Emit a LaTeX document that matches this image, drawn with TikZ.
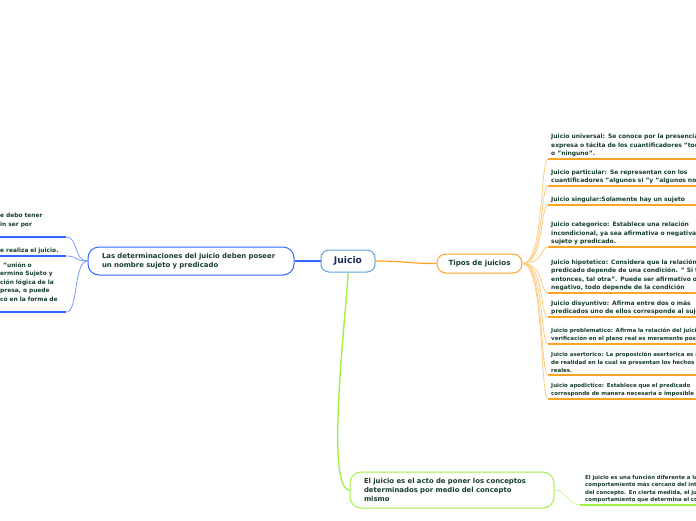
\documentclass[tikz,border=0pt]{standalone}
\usepackage{fontspec}
\setmainfont{DejaVu Sans}

\definecolor{texto}{RGB}{22,62,44}
\definecolor{marino}{RGB}{28,45,92}
\definecolor{naranja}{RGB}{255,163,34}
\definecolor{naranjaclaro}{RGB}{255,204,128}
\definecolor{azul}{RGB}{51,102,255}
\definecolor{azulclaro}{RGB}{120,155,255}
\definecolor{celeste}{RGB}{95,160,220}
\definecolor{verde}{RGB}{160,240,70}
\definecolor{verdeclaro}{RGB}{200,248,150}

\newcommand\ramafont{\fontsize{6.9}{8.6}\selectfont\bfseries}
\newcommand\hojafont{\fontsize{6}{8.5}\selectfont\bfseries}
\newcommand\izqfont{\fontsize{5.9}{8.5}\selectfont\bfseries}
\newcommand\hojitafont{\fontsize{5.5}{8}\selectfont\bfseries}
\newcommand\minifont{\fontsize{5.4}{7.4}\selectfont\bfseries}

\tikzset{
  raiz/.style={draw=celeste,fill=white,line width=1pt,rounded corners=8pt,
    minimum width=54pt,minimum height=22pt,text=marino,
    font=\fontsize{9.2}{10}\selectfont\bfseries},
  rama/.style={draw=#1,fill=white,line width=1pt,rounded corners=11pt,
    text=texto,font=\ramafont,align=left,inner xsep=14pt},
  hoja/.style={anchor=south west,text width=210pt,align=left,inner xsep=3pt,
    inner ysep=2pt,text=texto,font=\hojafont},
  hojaizq/.style={anchor=south west,text width=65pt,align=left,inner xsep=1pt,
    inner ysep=2pt,text=texto,font=\izqfont},
}

\begin{document}
\begin{tikzpicture}[x=1pt,y=-1pt]
\useasboundingbox (0,0) rectangle (696,520);
\clip (0,0) rectangle (696,520);

% centro y ramas
\node[raiz] (juicio) at (348,261) {Juicio};
\node[rama=naranja,rounded corners=9pt,minimum width=85pt,minimum height=19pt,
  align=center,inner xsep=4pt,font=\fontsize{7.1}{8}\selectfont\bfseries] (tipos) at (479.5,263.5) {Tipos de juicios};
\node[rama=azul,text width=178pt,minimum height=28pt] (determ) at (191,261)
  {Las determinaciones del juicio deben poseer\\un nombre sujeto y predicado};
\node[rama=verde,text width=176pt,minimum height=36pt] (acto) at (452,490)
  {El juicio es el acto de poner los conceptos\\determinados por medio del concepto\\mismo};

\draw[naranja,line width=1.2pt] (juicio.east) .. controls +(30,0) and +(-30,0) .. (tipos.west);
\draw[azul,line width=1.2pt] (juicio.west) -- (determ.east);
\draw[verde,line width=1.4pt] (juicio.south) to[out=-90,in=180,looseness=0.3] (acto.west);

% tipos de juicios
\node[hoja] (universal) at (548,159) {Juicio universal: Se conoce por la presencia\\expresa o tácita de los cuantificadores "todos"\\o "ninguno".};
\node[hoja] (particular) at (548,186) {Juicio particular: Se representan con los\\cuantificadores "algunos si "y "algunos no"};
\node[hoja] (singular) at (548,205) {Juicio singular:Solamente hay un sujeto};
\node[hoja] (categorico) at (548,247) {Juicio categorico: Establece una relación\\incondicional, ya sea afirmativa o negativa, entre\\sujeto y predicado.};
\node[hoja] (hipotetico) at (548,293) {Juicio hipotetico: Considera que la relación entre\\predicado depende de una condición. " Si tal\\entonces, tal otra". Puede ser afirmativo o\\negativo, todo depende de la condición};
\node[hoja] (disyuntivo) at (548,317) {Juicio disyuntivo: Afirma entre dos o más\\predicados uno de ellos corresponde al sujeto};
\node[hoja,font=\hojitafont] (problematico) at (548,344) {Juicio problematico: Afirma la relación del juicio\\verificación en el plano real es meramente posible};
\node[hoja,font=\hojitafont] (asertorico) at (548,375) {Juicio asertorico: La proposición asertorica es de\\de realidad en la cual se presentan los hechos\\reales.};
\node[hoja,font=\hojitafont] (apodictico) at (548,399) {Juicio apodictico: Establece que el predicado\\corresponde de manera necesaria o imposible al};

\foreach \n in {universal,particular,singular,categorico,hipotetico,
    disyuntivo,problematico,asertorico,apodictico}{
  \draw[naranjaclaro,line width=0.8pt] (tipos.east) .. controls +(22,0) and +(-8,0) .. (\n.south west);
  \draw[naranja,line width=2pt] (\n.south west) -- (\n.south east);
}

% determinaciones
\node[hojaizq] (izq1) at (-1,237) {e debo tener\\in ser por\\ \mbox{}};
\node[hojaizq] (izq2) at (-1,256) {e realiza el juicio.};
\node[hojaizq] (izq3) at (-1,312) {\hspace{3pt}"unión o\\ermino Sujeto y\\ción lógica de la\\presa, o puede\\co en la forma de\\ \mbox{}};

\foreach \n in {izq1,izq2,izq3}{
  \draw[azulclaro,line width=0.8pt] (determ.west) .. controls +(-14,0) and +(12,0) .. (\n.south east);
  \draw[azul,line width=2pt] (\n.south west) -- (\n.south east);
}

% funcion del juicio
\node[hoja,font=\minifont,inner xsep=5pt] (funcion) at (580,505) {El juicio es una función diferente a la\\comportamiento más cercano del intelecto\\del concepto. En cierta medida, el juicio\\comportamiento que determina el concepto};
\draw[verdeclaro,line width=0.8pt] (acto.east) .. controls +(12,0) and +(-12,0) .. (funcion.south west);
\draw[verde,line width=2pt] (funcion.south west) -- (funcion.south east);
\end{tikzpicture}
\end{document}
